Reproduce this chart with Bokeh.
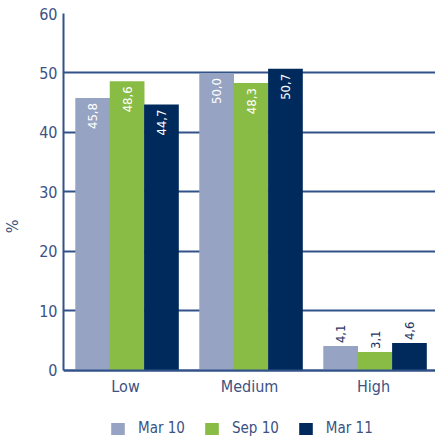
import numpy as np
from bokeh.plotting import figure
from bokeh.models import (ColumnDataSource, Range1d, FixedTicker, Legend, LegendItem)
from bokeh.core.properties import value
from bokeh.embed import file_html
from bokeh.resources import INLINE

categories = ["Low", "Medium", "High"]
series_names = ["Mar 10", "Sep 10", "Mar 11"]
mar10 = [45.8, 50.0, 4.1]
sep10 = [48.6, 48.3, 3.1]
mar11 = [44.7, 50.7, 4.6]
y_ticks = [0, 10, 20, 30, 40, 50, 60]

colors = ["#96A3C3", "#88BC45", "#002A5C"]
offsets = [-0.265, 0.013, 0.29]
bar_w = 0.28
FONT = "'Liberation Sans Narrow', 'DejaVu Sans Condensed', Roboto, sans-serif"
TXT = "#3B5283"
GRID = "#32528A"

p = figure(width=435, height=439, output_backend="svg", toolbar_location=None,
           x_range=Range1d(0, 3), y_range=Range1d(-11.6, 60),
           min_border_left=63, min_border_right=0, min_border_top=13,
           min_border_bottom=0)
p.outline_line_color = None
p.xgrid.grid_line_color = None
p.ygrid.grid_line_color = GRID
p.ygrid.grid_line_width = 2
p.ygrid.ticker = FixedTicker(ticks=y_ticks)

p.yaxis.ticker = FixedTicker(ticks=y_ticks)
p.yaxis.bounds = (0, 60)
p.yaxis.axis_label = "%"
p.yaxis.axis_label_text_font = FONT
p.yaxis.axis_label_text_font_style = "normal"
p.yaxis.axis_label_text_font_size = "16px"
p.yaxis.axis_label_text_color = TXT
p.yaxis.axis_label_standoff = 14

xc = np.arange(len(categories)) + 0.5
p.xaxis.ticker = FixedTicker(ticks=list(xc))
p.xaxis.major_label_overrides = {float(x): c for x, c in zip(xc, categories)}
p.xaxis.fixed_location = 0

for ax in (p.xaxis, p.yaxis):
    ax[0].axis_line_color = GRID
    ax[0].axis_line_width = 2
    ax[0].major_tick_line_color = None
    ax[0].minor_tick_line_color = None
    ax[0].major_tick_out = 0
    ax[0].major_tick_in = 0
    ax[0].minor_tick_out = 0
    ax[0].minor_tick_in = 0
    ax[0].major_label_text_font = FONT
    ax[0].major_label_text_font_size = "16px"
    ax[0].major_label_text_color = TXT
p.yaxis.major_label_standoff = 6
p.xaxis.major_label_standoff = 7

items = []
for name, vals, col, off in zip(series_names, [mar10, sep10, mar11], colors, offsets):
    vals = np.array(vals)
    labels = [f"{v:.1f}".replace(".", ",") for v in vals]
    src = ColumnDataSource(dict(x=xc + off, top=vals, label=labels))
    r = p.vbar(x="x", top="top", width=bar_w, bottom=0, source=src,
               fill_color=col, line_color=None)
    items.append(LegendItem(label=name, renderers=[r]))
    inside = vals > 10
    src_in = ColumnDataSource(dict(x=(xc + off)[inside], y=vals[inside],
                                   label=[l for l, m in zip(labels, inside) if m]))
    src_out = ColumnDataSource(dict(x=(xc + off)[~inside], y=vals[~inside],
                                    label=[l for l, m in zip(labels, inside) if not m]))
    p.text(x="x", y="y", text="label", source=src_in, angle=np.pi / 2,
           text_align="right", text_baseline="middle", y_offset=5,
           text_color="white", text_font=value(FONT), text_font_size="13px")
    p.text(x="x", y="y", text="label", source=src_out, angle=np.pi / 2,
           text_align="left", text_baseline="middle", y_offset=-3,
           text_color="#1F3564", text_font=value(FONT), text_font_size="13px")

legend = Legend(items=items, orientation="horizontal", location=(46, 2),
                glyph_width=17, glyph_height=15, label_standoff=12, spacing=18,
                label_text_font=FONT, label_text_font_size="15px",
                label_text_color=TXT, border_line_color=None,
                background_fill_alpha=0, padding=0, margin=0)
p.add_layout(legend, "center")

open("out.html", "w").write(file_html(p, INLINE))
